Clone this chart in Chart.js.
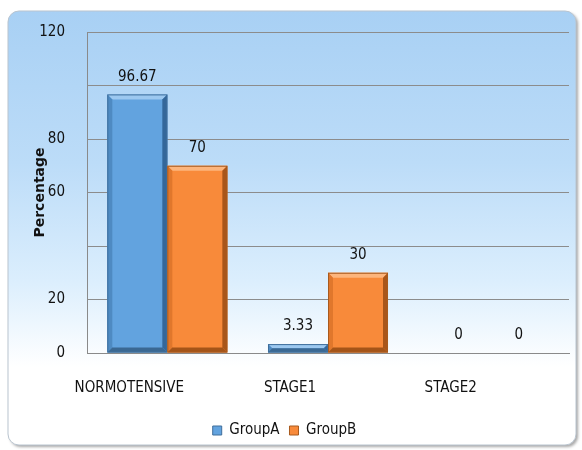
<!DOCTYPE html>
<html>
<head>
<meta charset="utf-8">
<script src="https://cdn.jsdelivr.net/npm/chart.js@4"></script>
<style>
  html, body { margin: 0; padding: 0; background: #ffffff; }
  #wrap { width: 582px; height: 450px; position: relative; }
</style>
</head>
<body>
<div id="wrap"><canvas id="c" width="582" height="450"></canvas></div>
<script>
// Blood-pressure categories and the share of each group (%)
const categories = ['NORMOTENSIVE', 'STAGE1', 'STAGE2'];
const groupA = [96.67, 3.33, 0];
const groupB = [70, 30, 0];
const seriesNames = ['GroupA', 'GroupB'];
// y values that carry a printed tick label
const yTickLabels = [0, 20, 60, 80, 120];

const FONT = "'Liberation Sans Narrow', 'DejaVu Sans Condensed', sans-serif";

// rounded frame with a sky-blue to white gradient behind the chart
const framePlugin = {
  id: 'frame',
  beforeDraw(chart) {
    const ctx = chart.ctx;
    const x = 8, y = 11, w = 568, h = 434, r = 11;
    const path = () => {
      ctx.beginPath();
      ctx.moveTo(x + r, y);
      ctx.arcTo(x + w, y, x + w, y + h, r);
      ctx.arcTo(x + w, y + h, x, y + h, r);
      ctx.arcTo(x, y + h, x, y, r);
      ctx.arcTo(x, y, x + w, y, r);
      ctx.closePath();
    };
    ctx.save();
    ctx.shadowColor = 'rgba(0,0,0,0.35)';
    ctx.shadowBlur = 3;
    ctx.shadowOffsetX = 2;
    ctx.shadowOffsetY = 2;
    path();
    ctx.fillStyle = '#ffffff';
    ctx.fill();
    ctx.restore();
    ctx.save();
    path();
    const g = ctx.createLinearGradient(0, y, 0, y + h);
    g.addColorStop(0, '#a8d0f4');
    g.addColorStop(0.35, '#bcdcf8');
    g.addColorStop(0.62, '#dbeefd');
    g.addColorStop(0.82, '#ffffff');
    g.addColorStop(1, '#ffffff');
    ctx.fillStyle = g;
    ctx.fill();
    ctx.lineWidth = 1;
    ctx.strokeStyle = '#b9c4cf';
    ctx.stroke();
    ctx.restore();
  }
};

// bevelled edges on each bar and value labels above them
const bevel = [
  { top: '#9cc8f0', left: '#4e8ac2', right: '#34679a', bottom: '#3a6893', edge: '#3f6e9b' },
  { top: '#fdb57c', left: '#e0772c', right: '#a9561a', bottom: '#a45418', edge: '#a85a1e' }
];
const barDecor = {
  id: 'barDecor',
  afterDatasetsDraw(chart) {
    const ctx = chart.ctx;
    chart.data.datasets.forEach((ds, di) => {
      const meta = chart.getDatasetMeta(di);
      const c = bevel[di];
      meta.data.forEach((bar, i) => {
        const v = ds.data[i];
        const l = bar.x - bar.width / 2, rr = bar.x + bar.width / 2;
        const t = bar.y, b = bar.base;
        const h = b - t;
        if (h > 0.5) {
          const s = Math.min(5, h / 2);
          ctx.save();
          const quad = (pts, col) => {
            ctx.beginPath();
            ctx.moveTo(pts[0][0], pts[0][1]);
            for (let k = 1; k < pts.length; k++) ctx.lineTo(pts[k][0], pts[k][1]);
            ctx.closePath();
            ctx.fillStyle = col;
            ctx.fill();
          };
          quad([[l, t], [rr, t], [rr - s, t + s], [l + s, t + s]], c.top);
          quad([[l, t], [l + s, t + s], [l + s, b - s], [l, b]], c.left);
          quad([[rr, t], [rr, b], [rr - s, b - s], [rr - s, t + s]], c.right);
          quad([[l, b], [l + s, b - s], [rr - s, b - s], [rr, b]], c.bottom);
          ctx.strokeStyle = c.edge;
          ctx.lineWidth = 1;
          ctx.strokeRect(l + 0.5, t + 0.5, rr - l - 1, h - 1);
          ctx.restore();
        }
        ctx.save();
        ctx.font = '15px ' + FONT;
        ctx.fillStyle = '#111111';
        ctx.textAlign = 'center';
        ctx.textBaseline = 'middle';
        ctx.fillText(String(v), bar.x, t - 17.5);
        ctx.restore();
      });
    });
  }
};

new Chart(document.getElementById('c'), {
  type: 'bar',
  data: {
    labels: categories,
    datasets: [
      { label: seriesNames[0], data: groupA, backgroundColor: '#62a3df', borderWidth: 0 },
      { label: seriesNames[1], data: groupB, backgroundColor: '#f88a3a', borderWidth: 0 }
    ]
  },
  options: {
    responsive: false,
    animation: false,
    devicePixelRatio: 1,
    layout: { padding: { left: 0, right: 13, top: 32, bottom: 2 } },
    datasets: { bar: { barPercentage: 1, categoryPercentage: 0.747 } },
    plugins: {
      tooltip: { enabled: false },
      legend: {
        position: 'bottom',
        labels: {
          font: { family: FONT, size: 15 },
          color: '#111111',
          boxWidth: 9,
          boxHeight: 9,
          padding: 10,
          generateLabels(chart) {
            return chart.data.datasets.map((ds, i) => ({
              text: ds.label,
              fillStyle: ds.backgroundColor,
              strokeStyle: bevel[i].edge,
              lineWidth: 1,
              datasetIndex: i,
              fontColor: '#111111'
            }));
          }
        }
      }
    },
    scales: {
      x: {
        grid: { display: false, drawTicks: false },
        border: { display: true, color: '#8a8a8a', width: 1 },
        ticks: {
          font: { family: FONT, size: 15 },
          color: '#111111',
          padding: 26,
          labelOffset: -38,
          maxRotation: 0
        },
        afterFit(scale) { scale.height = 60; }
      },
      y: {
        min: 0,
        max: 120,
        grid: { color: '#8c8c8c', lineWidth: 1, drawTicks: false },
        border: { display: true, color: '#8a8a8a', width: 1 },
        ticks: {
          stepSize: 20,
          font: { family: FONT, size: 15 },
          color: '#111111',
          padding: 22,
          callback: (v) => (yTickLabels.includes(v) ? String(v) : '')
        },
        title: {
          display: true,
          text: 'Percentage',
          font: { family: "'DejaVu Sans', sans-serif", size: 14, weight: 'bold' },
          color: '#111111',
          padding: { top: 32, bottom: 0 }
        },
        afterFit(scale) { scale.width = 87; }
      }
    }
  },
  plugins: [framePlugin, barDecor]
});
</script>
</body>
</html>
